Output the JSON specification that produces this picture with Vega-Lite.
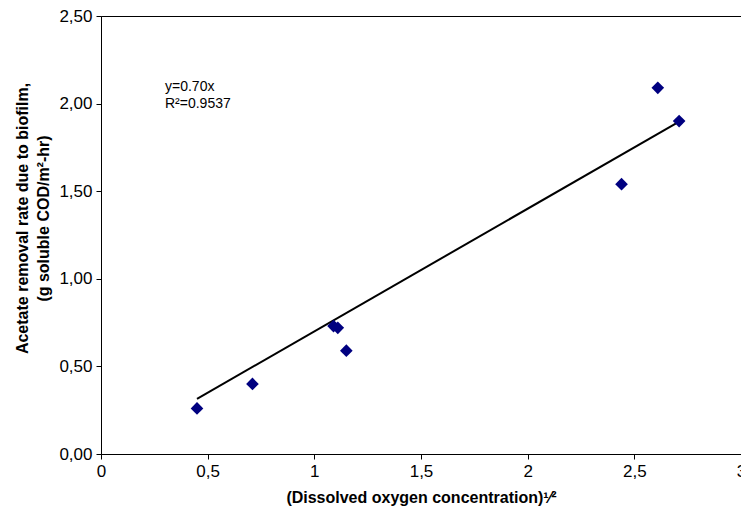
{
  "$schema": "https://vega.github.io/schema/vega-lite/v6.json",
  "width": 640,
  "height": 438,
  "autosize": {"type": "none"},
  "padding": {"left": 101, "top": 16, "right": 0, "bottom": 67},
  "background": "white",
  "config": {
    "view": {"stroke": "black", "strokeWidth": 1},
    "font": "Liberation Sans",
    "axis": {
      "grid": false,
      "domainColor": "black",
      "tickColor": "black",
      "tickSize": 5,
      "labelColor": "black",
      "labelFont": "Liberation Sans",
      "labelFontSize": 17,
      "titleFont": "Liberation Sans",
      "titleFontSize": 16,
      "titleFontWeight": "bold",
      "titleColor": "black"
    }
  },
  "datasets": {
    "points": [
      {"x": 0.45, "y": 0.26},
      {"x": 0.71, "y": 0.40},
      {"x": 1.09, "y": 0.73},
      {"x": 1.11, "y": 0.72},
      {"x": 1.15, "y": 0.59},
      {"x": 2.44, "y": 1.54},
      {"x": 2.61, "y": 2.09},
      {"x": 2.71, "y": 1.90}
    ],
    "trend": [
      {"x": 0.45, "y": 0.315},
      {"x": 2.71, "y": 1.897}
    ],
    "notes": [
      {"x": 0.30, "y": 2.095, "label": "y=0.70x"},
      {"x": 0.30, "y": 1.998, "label": "R²=0.9537"}
    ]
  },
  "layer": [
    {
      "data": {"name": "trend"},
      "mark": {"type": "line", "color": "black", "strokeWidth": 2},
      "encoding": {
        "x": {
          "field": "x", "type": "quantitative",
          "scale": {"domain": [0, 3], "nice": false, "zero": true},
          "axis": {
            "values": [0, 0.5, 1, 1.5, 2, 2.5, 3],
            "labelExpr": "replace(format(datum.value, '~g'), '.', ',')",
            "labelPadding": 4,
            "labelFlush": false,
            "labelOverlap": false,
            "title": "(Dissolved oxygen concentration)¹⁄²",
            "titleY": 43,
            "titleBaseline": "middle"
          }
        },
        "y": {
          "field": "y", "type": "quantitative",
          "scale": {"domain": [0, 2.5], "nice": false},
          "axis": {
            "values": [0, 0.5, 1, 1.5, 2, 2.5],
            "labelExpr": "replace(format(datum.value, '.2f'), '.', ',')",
            "labelPadding": 4,
            "labelFlush": false,
            "labelOverlap": false,
            "title": ["Acetate removal rate due to biofilm,", "(g soluble COD/m²-hr)"],
            "titleLineHeight": 21,
            "titleX": -79,
            "titleY": 202,
            "titleBaseline": "middle",
            "titleAngle": -90
          }
        }
      }
    },
    {
      "data": {"name": "points"},
      "mark": {"type": "point", "shape": "diamond", "filled": true, "color": "#000080", "size": 160, "opacity": 1},
      "encoding": {
        "x": {"field": "x", "type": "quantitative"},
        "y": {"field": "y", "type": "quantitative"}
      }
    },
    {
      "data": {"name": "notes"},
      "mark": {"type": "text", "align": "left", "baseline": "middle", "fontSize": 14, "font": "Liberation Sans", "color": "black"},
      "encoding": {
        "x": {"field": "x", "type": "quantitative"},
        "y": {"field": "y", "type": "quantitative"},
        "text": {"field": "label"}
      }
    }
  ]
}
